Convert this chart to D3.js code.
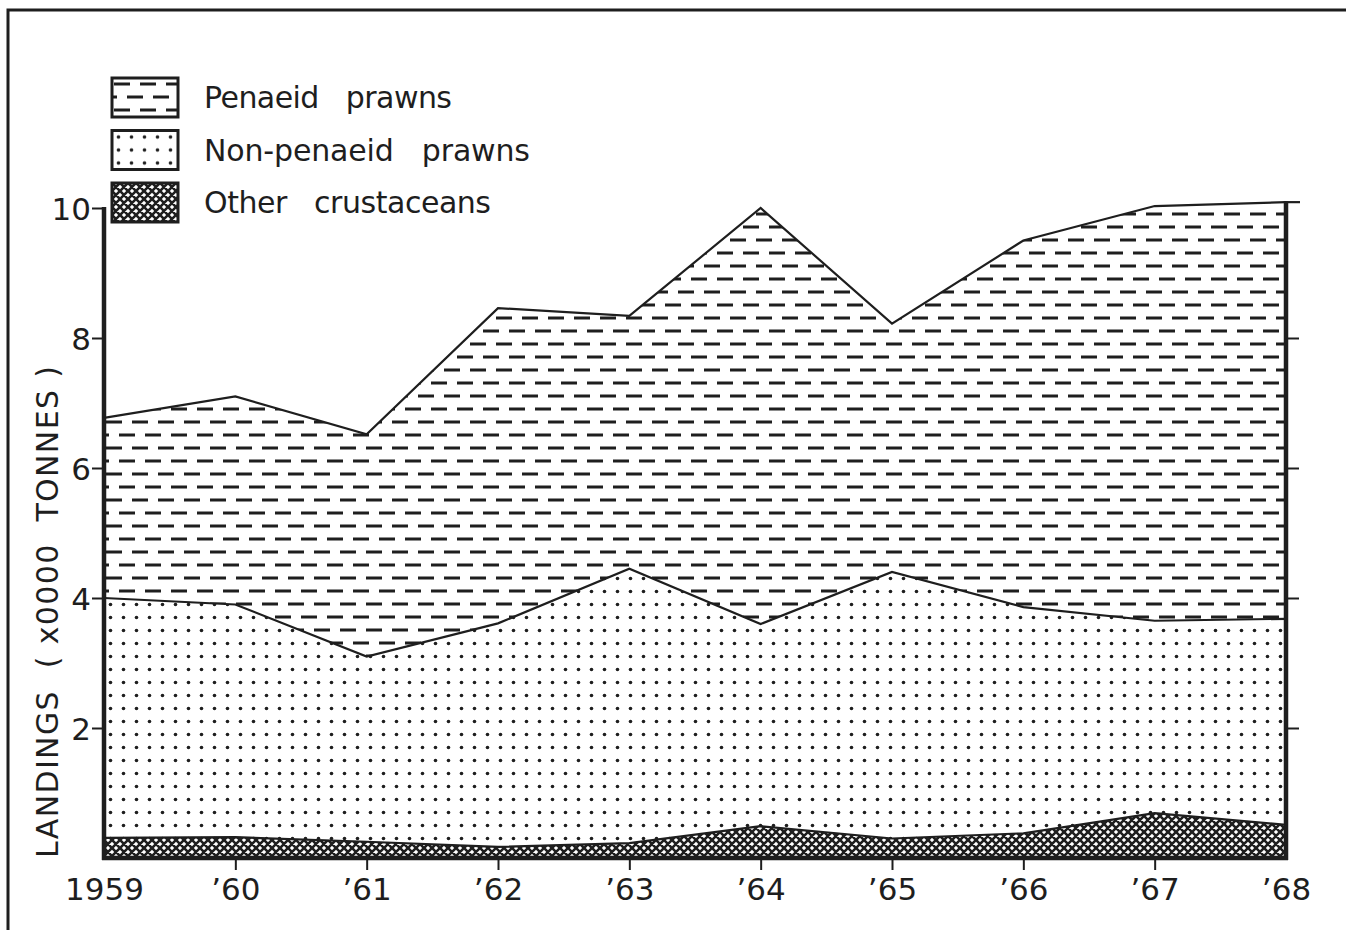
<!DOCTYPE html>
<html>
<head>
<meta charset="utf-8">
<script src="https://cdn.jsdelivr.net/npm/d3@7"></script>
<style>
  body { margin: 0; background: #fff; }
  text { font-family: "DejaVu Sans", sans-serif; fill: #1e1e1e; white-space: pre; }
</style>
</head>
<body>
<div id="chart"></div>
<script>
// Data (x0000 tonnes)
const years = [1959, 1960, 1961, 1962, 1963, 1964, 1965, 1966, 1967, 1968];
const yearLabels = ["1959", "\u201960", "\u201961", "\u201962", "\u201963", "\u201964", "\u201965", "\u201966", "\u201967", "\u201968"];
const other = [0.31, 0.32, 0.25, 0.17, 0.23, 0.49, 0.30, 0.38, 0.69, 0.51];
const nonPenaeid = [3.69, 3.58, 2.85, 3.44, 4.22, 3.11, 4.10, 3.48, 2.96, 3.17];
const penaeid = [2.77, 3.20, 3.42, 4.85, 3.89, 6.40, 3.82, 5.64, 6.38, 6.41];
const yTicks = [2, 4, 6, 8, 10];
const legendLabels = ["Penaeid   prawns", "Non-penaeid   prawns", "Other   crustaceans"];

const width = 1346, height = 930;
const ink = "#1e1e1e";

const svg = d3.select("#chart").append("svg")
  .attr("width", width)
  .attr("height", height);

// Fill patterns
const defs = svg.append("defs");

let dash = defs.append("pattern")
  .attr("id", "dash")
  .attr("patternUnits", "userSpaceOnUse")
  .attr("width", 26).attr("height", 26);
dash.append("path")
  .attr("d", "M2,6H18 M15,19H26 M0,19H5")
  .attr("stroke", ink).attr("stroke-width", 2.8);

let dots = defs.append("pattern")
  .attr("id", "dots")
  .attr("patternUnits", "userSpaceOnUse")
  .attr("width", 13).attr("height", 13);
dots.append("circle")
  .attr("cx", 6.5).attr("cy", 6.5).attr("r", 1.8)
  .attr("fill", ink);

let cross = defs.append("pattern")
  .attr("id", "cross")
  .attr("patternUnits", "userSpaceOnUse")
  .attr("width", 8).attr("height", 8);
cross.append("rect").attr("width", 8).attr("height", 8).attr("fill", "#fff");
cross.append("path")
  .attr("d", "M-2,2L2,-2 M0,8L8,0 M6,10L10,6 M-2,6L2,10 M0,0L8,8 M6,-2L10,2")
  .attr("stroke", ink).attr("stroke-width", 2.6);

// Outer frame
svg.append("path")
  .attr("d", "M8,930V10H1346")
  .attr("fill", "none").attr("stroke", ink).attr("stroke-width", 3);

// Scales
const x = d3.scaleLinear().domain([1959, 1968]).range([104, 1286]);
const y = d3.scaleLinear().domain([0, 10]).range([858, 208]);

// Stack
const rows = years.map((yr, i) => ({ year: yr, other: other[i], nonPenaeid: nonPenaeid[i], penaeid: penaeid[i] }));
const keys = ["other", "nonPenaeid", "penaeid"];
const fills = { other: "url(#cross)", nonPenaeid: "url(#dots)", penaeid: "url(#dash)" };
const series = d3.stack().keys(keys)(rows);

const area = d3.area()
  .x(d => x(d.data.year))
  .y0(d => y(d[0]))
  .y1(d => y(d[1]));

const line = d3.line()
  .x(d => x(d.data.year))
  .y(d => y(d[1]));

svg.selectAll(".layer")
  .data(series)
  .enter()
  .append("path")
  .attr("d", area)
  .attr("fill", d => fills[d.key]);

svg.selectAll(".edge")
  .data(series)
  .enter()
  .append("path")
  .attr("d", line)
  .attr("fill", "none")
  .attr("stroke", ink)
  .attr("stroke-width", 2.2);

// Left axis
const left = svg.append("g")
  .attr("transform", `translate(${x(1959)},0)`)
  .call(d3.axisLeft(y).tickValues(yTicks).tickSize(12).tickFormat(d3.format("d")));
left.select(".domain").remove();
left.selectAll(".tick line").attr("stroke", ink).attr("stroke-width", 2);
left.selectAll(".tick text")
  .attr("x", -13).attr("dy", "0.36em")
  .style("font-size", "31px").style("font-family", "DejaVu Sans").attr("fill", ink);
svg.append("line")
  .attr("x1", x(1959)).attr("x2", x(1959))
  .attr("y1", y(10) - 1).attr("y2", y(0) + 2)
  .attr("stroke", ink).attr("stroke-width", 4.5);

// Right axis
const lastTotal = other[9] + nonPenaeid[9] + penaeid[9];
const right = svg.append("g")
  .attr("transform", `translate(${x(1968)},0)`)
  .call(d3.axisRight(y).tickValues([2, 4, 6, 8]).tickSize(13).tickFormat(""));
right.select(".domain").remove();
right.selectAll(".tick line").attr("stroke", ink).attr("stroke-width", 2);
svg.append("line")
  .attr("x1", x(1968)).attr("x2", x(1968) + 14)
  .attr("y1", y(lastTotal)).attr("y2", y(lastTotal))
  .attr("stroke", ink).attr("stroke-width", 2.2);
svg.append("line")
  .attr("x1", x(1968)).attr("x2", x(1968))
  .attr("y1", y(lastTotal) - 1).attr("y2", y(0) + 2)
  .attr("stroke", ink).attr("stroke-width", 4.5);

// Bottom axis
const bottom = svg.append("g")
  .attr("transform", `translate(0,${y(0)})`)
  .call(d3.axisBottom(x).tickValues(years).tickSize(12).tickFormat((d, i) => yearLabels[i]));
bottom.select(".domain").remove();
bottom.selectAll(".tick line")
  .attr("stroke", ink).attr("stroke-width", 2)
  .attr("opacity", (d, i) => (i === 0 || i === years.length - 1) ? 0 : 1);
bottom.selectAll(".tick text")
  .attr("y", 0).attr("dy", "42px")
  .style("font-size", "31px").style("font-family", "DejaVu Sans").attr("fill", ink);
svg.append("line")
  .attr("x1", x(1959) - 2).attr("x2", x(1968) + 2)
  .attr("y1", y(0)).attr("y2", y(0))
  .attr("stroke", ink).attr("stroke-width", 4.5);

// Y axis title
svg.append("text")
  .attr("transform", "translate(58,612) rotate(-90)")
  .attr("text-anchor", "middle")
  .attr("textLength", 492)
  .attr("lengthAdjust", "spacing")
  .style("font-size", "30px")
  .text("LANDINGS  ( x0000  TONNES )");

// Legend
const legendFills = ["url(#dash)", "url(#dots)", "url(#cross)"];
const legendWidths = [248, 326, 287];
const legend = svg.selectAll(".legend")
  .data(legendLabels)
  .enter()
  .append("g")
  .attr("transform", (d, i) => `translate(112,${78 + i * 52.5})`);

legend.append("rect")
  .attr("width", 66).attr("height", 39)
  .attr("fill", (d, i) => legendFills[i])
  .attr("stroke", ink).attr("stroke-width", 3);

legend.append("text")
  .attr("x", 92).attr("y", 30)
  .attr("textLength", (d, i) => legendWidths[i])
  .attr("lengthAdjust", "spacing")
  .style("font-size", "30px")
  .text(d => d);
</script>
</body>
</html>
